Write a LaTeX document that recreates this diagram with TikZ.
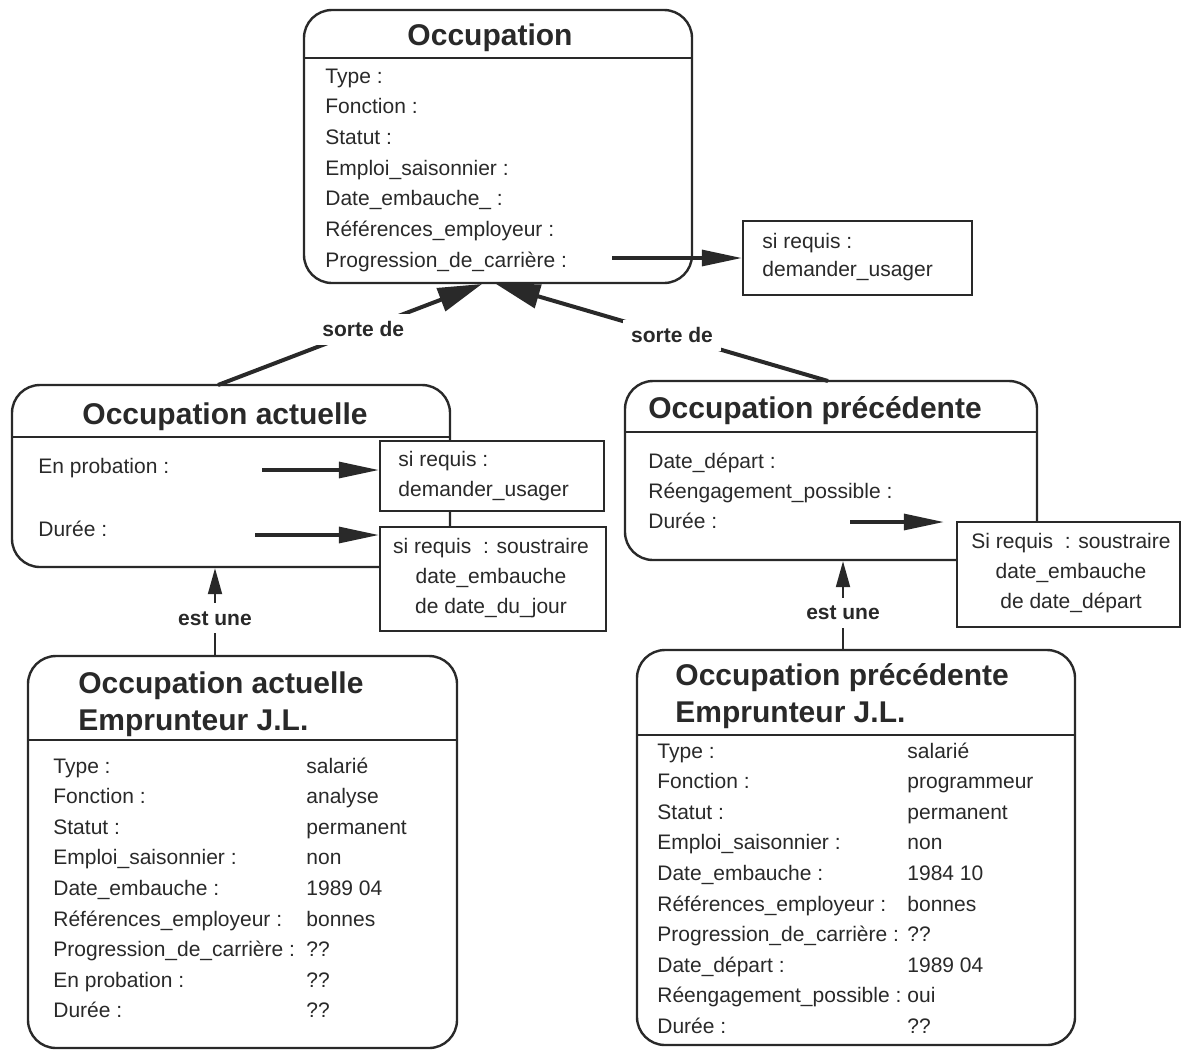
\documentclass[tikz,border=0pt]{standalone}
\usepackage{fontspec}
\setmainfont{Liberation Sans}
\usetikzlibrary{arrows.meta,fit}
\definecolor{ink}{gray}{0.16}
\begin{document}
\begin{tikzpicture}[x=0.5pt,y=-0.5pt,
  box/.style={draw=ink,line width=1.2pt,rounded corners=14pt,inner sep=0pt},
  sbox/.style={draw=ink,line width=1.2pt,fill=white,inner sep=0pt},
  txt/.style={font=\fontsize{10.5}{14}\selectfont,text=ink,inner sep=0pt,anchor=base west},
  ctxt/.style={font=\fontsize{10.5}{15}\selectfont,text=ink,inner sep=0pt,align=center},
  ttl/.style={font=\fontsize{15}{17.5}\selectfont\bfseries,text=ink,inner sep=0pt},
  rel/.style={font=\fontsize{10.5}{12}\selectfont\bfseries,text=ink,fill=white,inner sep=4pt},
  harrow/.style={draw=ink,line width=1.6pt,-{Triangle[length=20pt,width=8pt]}},
  sorte/.style={draw=ink,line width=2pt,-{Triangle[length=22pt,width=12pt]}},
  isa/.style={draw=ink,line width=1pt,-{Triangle[length=13pt,width=7pt]}},
  sep/.style={draw=ink,line width=1.2pt}
]
\useasboundingbox (0,0) rectangle (1182,1051);

% ---------- Occupation ----------
\node[box,fit={(304,10)(692,283)}] (occ) {};
\node[ttl,anchor=base] (occT) at (490,45) {Occupation};
\draw[sep] (304,58) -- (692,58);
\foreach \t [count=\i from 0] in {Type :, Fonction :, Statut :, Emploi\_saisonnier :, Date\_embauche\_ :, Références\_employeur :, Progression\_de\_carrière :}
  \node[txt] (o\i) at (325,{83+30.7*\i}) {\t};

\node[sbox,fit={(743,221)(972,295)}] (req0) {};
\node[txt] (r0a) at (762,248) {si requis :};
\node[txt] (r0b) at (762,276) {demander\_usager};
\coordinate (pg) at (612,258);
\draw[harrow] (pg) -- (pg -| req0.west);

% ---------- Occupation actuelle ----------
\node[box,fit={(12,385)(450,567)}] (actu) {};
\node[ttl,anchor=base] (actuT) at (225,424) {Occupation actuelle};
\draw[sep] (12,437) -- (450,437);
\node[txt] (a1) at (38,473) {En probation :};
\node[txt] (a2) at (38,536) {Durée :};

\node[sbox,fit={(380,441)(604,511)}] (req1) {};
\node[txt] (r1a) at (398,466) {si requis :};
\node[txt] (r1b) at (398,496) {demander\_usager};
\node[sbox,fit={(380,527)(606,631)}] (req2) {};
\node[ctxt] (r2) at (491,578) {si requis \ : soustraire\\date\_embauche\\de date\_du\_jour};

\coordinate (ep) at (262,470);
\draw[harrow] (ep) -- (ep -| req1.west);
\coordinate (du) at (255,535);
\draw[harrow] (du) -- (du -| req2.west);

% ---------- Occupation precedente ----------
\node[box,fit={(625,381)(1037,560)}] (prec) {};
\node[ttl,anchor=base] (precT) at (815,418) {Occupation précédente};
\draw[sep] (625,432) -- (1037,432);
\node[txt] (p1) at (648,468) {Date\_départ :};
\node[txt] (p2) at (648,498) {Réengagement\_possible :};
\node[txt] (p3) at (648,528) {Durée :};

\node[sbox,fit={(957,522)(1180,627)}] (req3) {};
\node[ctxt] (r3) at (1071,573) {Si requis \ : soustraire\\date\_embauche\\de date\_départ};
\coordinate (dp) at (850,522);
\draw[harrow,shorten >=6pt] (dp) -- (dp -| req3.west);

% ---------- sorte de ----------
\coordinate (s1) at (218,385);
\coordinate (t1) at (482,284);
\draw[sorte] (s1) -- node[rel,pos=0.55] (sd1) {sorte de} (t1);
\coordinate (s2) at (828,381);
\coordinate (t2) at (496,284);
\draw[sorte] (s2) -- node[rel,pos=0.47] (sd2) {sorte de} (t2);

% ---------- instance 1 ----------
\node[box,fit={(28,656)(457,1048)}] (inst1) {};
\node[ttl,anchor=base west] (i1a) at (78,693) {Occupation actuelle};
\node[ttl,anchor=base west] (i1b) at (78,730) {Emprunteur J.L.};
\draw[sep] (28,740) -- (457,740);
\foreach \l/\v [count=\i from 0] in {Type :/salarié, Fonction :/analyse, Statut :/permanent, Emploi\_saisonnier :/non, Date\_embauche :/1989 04, Références\_employeur :/bonnes, Progression\_de\_carrière :/??, En probation :/??, Durée :/??}
{
  \node[txt] (ia\i) at (53,{773+30.6*\i}) {\l};
  \node[txt] (iv\i) at (306,{773+30.6*\i}) {\v};
}

% ---------- instance 2 ----------
\node[box,fit={(637,650)(1075,1045)}] (inst2) {};
\node[ttl,anchor=base west] (i2a) at (675,685) {Occupation précédente};
\node[ttl,anchor=base west] (i2b) at (675,722) {Emprunteur J.L.};
\draw[sep] (637,735) -- (1075,735);
\foreach \l/\v [count=\i from 0] in {Type :/salarié, Fonction :/programmeur, Statut :/permanent, Emploi\_saisonnier :/non, Date\_embauche :/1984 10, Références\_employeur :/bonnes, Progression\_de\_carrière :/??, Date\_départ :/1989 04, Réengagement\_possible :/oui, Durée :/??}
{
  \node[txt] (ja\i) at (657,{758+30.6*\i}) {\l};
  \node[txt] (jv\i) at (907,{758+30.6*\i}) {\v};
}

% ---------- est une ----------
\coordinate (e1) at (215,656);
\draw[isa] (e1) -- node[rel,pos=0.43] (eu1) {est une} (e1 |- actu.south);
\coordinate (e2) at (843,650);
\draw[isa] (e2) -- node[rel,pos=0.42] (eu2) {est une} (e2 |- prec.south);
\end{tikzpicture}
\end{document}
